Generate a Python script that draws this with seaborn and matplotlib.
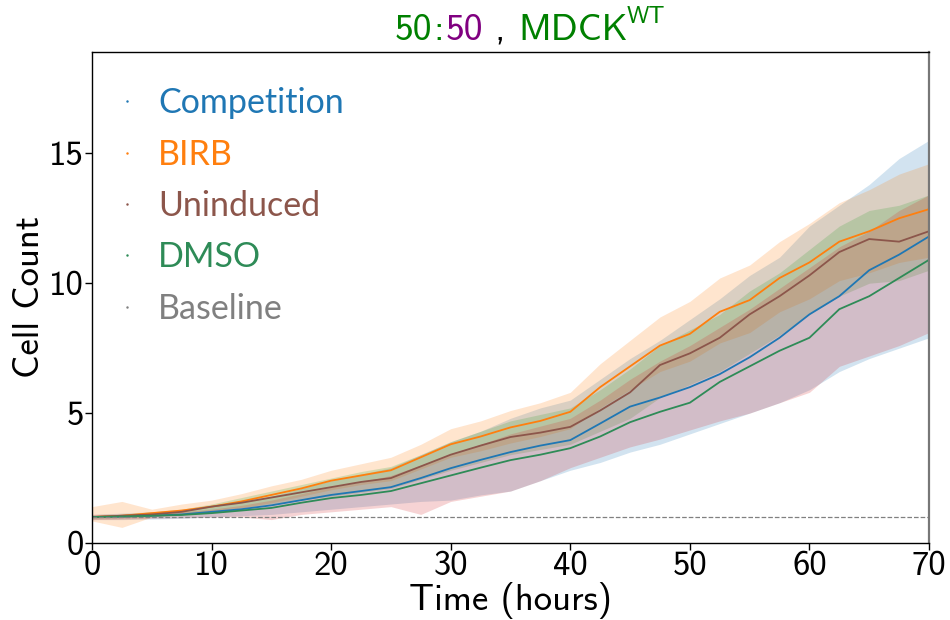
import numpy as np
import pandas as pd
import seaborn as sns
import matplotlib.pyplot as plt
from matplotlib.lines import Line2D

hours = [0, 2.5, 5, 7.5, 10, 12.5, 15, 17.5, 20, 22.5, 25, 27.5, 30, 32.5, 35,
         37.5, 40, 42.5, 45, 47.5, 50, 52.5, 55, 57.5, 60, 62.5, 65, 67.5, 70]

competition = [1.0, 1.02, 1.05, 1.1, 1.2, 1.3, 1.45, 1.65, 1.85, 2.0, 2.15, 2.5, 2.88, 3.2, 3.5,
               3.75, 3.96, 4.6, 5.25, 5.6, 6.0, 6.5, 7.15, 7.9, 8.8, 9.5, 10.5, 11.1, 11.8]
competition_lo = [0.9, 0.9, 0.92, 0.95, 1.0, 1.05, 1.1, 1.2, 1.3, 1.4, 1.5, 1.6, 1.65, 1.85, 2.0,
                  2.4, 2.8, 3.1, 3.5, 3.8, 4.2, 4.6, 5.0, 5.4, 5.9, 6.6, 7.1, 7.5, 7.9]
competition_hi = [1.1, 1.15, 1.2, 1.25, 1.4, 1.6, 1.8, 2.1, 2.4, 2.65, 2.9, 3.4, 3.9, 4.3, 4.8,
                  5.2, 5.5, 6.3, 7.1, 7.8, 8.6, 9.4, 10.3, 11.0, 12.2, 13.0, 13.8, 14.8, 15.5]

birb = [1.0, 1.05, 1.15, 1.25, 1.4, 1.6, 1.85, 2.1, 2.4, 2.6, 2.8, 3.3, 3.8, 4.1, 4.45,
        4.7, 5.05, 6.0, 6.8, 7.6, 8.05, 8.9, 9.35, 10.2, 10.8, 11.6, 12.0, 12.5, 12.85]
birb_lo = [0.85, 0.6, 1.0, 1.1, 1.2, 1.35, 1.55, 1.8, 2.05, 2.25, 2.4, 2.85, 3.3, 3.55, 3.85,
           4.1, 4.4, 5.2, 5.9, 6.6, 7.0, 7.7, 8.1, 8.9, 9.4, 10.1, 10.4, 10.8, 11.0]
birb_hi = [1.4, 1.6, 1.3, 1.5, 1.65, 1.9, 2.2, 2.45, 2.8, 3.05, 3.3, 3.8, 4.4, 4.7, 5.1,
           5.4, 5.8, 6.9, 7.8, 8.7, 9.3, 10.2, 10.7, 11.6, 12.3, 13.1, 13.6, 14.2, 14.6]

uninduced = [1.0, 1.05, 1.1, 1.2, 1.4, 1.55, 1.75, 1.95, 2.15, 2.35, 2.5, 2.95, 3.4, 3.75, 4.08,
             4.25, 4.47, 5.1, 5.8, 6.85, 7.3, 7.9, 8.8, 9.5, 10.3, 11.2, 11.7, 11.6, 12.0]
uninduced_lo = [0.95, 0.97, 1.0, 1.1, 1.25, 1.35, 1.5, 1.65, 1.8, 1.95, 2.1, 2.45, 2.8, 3.1, 3.4,
                3.6, 3.8, 4.3, 4.8, 5.6, 6.1, 6.6, 7.3, 8.0, 8.8, 9.5, 10.0, 10.1, 10.5]
uninduced_hi = [1.05, 1.1, 1.2, 1.3, 1.5, 1.75, 2.0, 2.25, 2.5, 2.75, 2.95, 3.4, 3.9, 4.3, 4.7,
                4.95, 5.2, 5.9, 6.7, 7.6, 8.2, 8.8, 9.7, 10.4, 11.3, 12.2, 12.8, 13.0, 13.4]

dmso = [1.0, 1.02, 1.05, 1.08, 1.15, 1.25, 1.35, 1.55, 1.73, 1.85, 2.0, 2.3, 2.6, 2.9, 3.19,
        3.4, 3.65, 4.1, 4.65, 5.05, 5.4, 6.2, 6.8, 7.4, 7.9, 9.0, 9.5, 10.2, 10.9]
dmso_lo = [0.9, 0.92, 0.95, 0.97, 1.0, 1.0, 0.9, 1.1, 1.2, 1.3, 1.4, 1.1, 1.6, 1.8, 2.0,
           2.4, 2.9, 3.3, 3.7, 4.0, 4.35, 4.7, 5.0, 5.4, 5.8, 6.8, 7.2, 7.6, 8.1]
dmso_hi = [1.1, 1.12, 1.15, 1.2, 1.3, 1.45, 1.65, 1.9, 2.15, 2.35, 2.6, 3.0, 3.4, 3.8, 4.2,
           4.5, 4.8, 5.5, 6.3, 7.0, 7.6, 8.3, 9.0, 9.8, 10.6, 11.4, 12.0, 12.8, 13.4]

baseline = 1.0

labels = ["Competition", "BIRB", "Uninduced", "DMSO", "Baseline"]
line_colors = ["#1f77b4", "#ff7f0e", "#8c564b", "#2e8b57", "grey"]
band_colors = ["#1f77b4", "#ff7f0e", "#2ca02c", "#d62728"]

sns.set_theme(style="white")
plt.rcParams["font.family"] = ["cmss10", "DejaVu Sans"]
plt.rcParams["axes.unicode_minus"] = False

fig = plt.figure(figsize=(9.5, 6.2), dpi=100)
ax = fig.add_axes([92 / 950, 1 - 543 / 620, (929 - 92) / 950, (543 - 52) / 620])

los = [competition_lo, birb_lo, uninduced_lo, dmso_lo]
his = [competition_hi, birb_hi, uninduced_hi, dmso_hi]

for lo, hi, c in zip(los, his, band_colors):
    ax.fill_between(hours, lo, hi, color=c, alpha=0.2, linewidth=0)

df = pd.DataFrame({"hours": hours * 4,
                   "count": competition + birb + uninduced + dmso,
                   "cond": sum([[l] * len(hours) for l in labels[:4]], [])})
for lab, c in zip(labels[:4], line_colors[:4]):
    sns.lineplot(data=df[df["cond"] == lab], x="hours", y="count", color=c,
                 linewidth=1.3, ax=ax, legend=False)

ax.axhline(baseline, color="grey", linestyle="--", linewidth=0.9)

ax.set_xlim(0, 70)
ax.set_ylim(0, 18.9)
ax.set_xticks([0, 10, 20, 30, 40, 50, 60, 70])
ax.set_yticks([0, 5, 10, 15])
ax.tick_params(axis="both", labelsize=25, length=5, width=1, direction="out",
               bottom=True, left=True, pad=1, colors="black")
for sp in ax.spines.values():
    sp.set_color("black")
    sp.set_linewidth(1.0)
ax.spines["right"].set_color("#777777")
ax.spines["right"].set_linewidth(1.6)

ax.set_xlabel("Time (hours)", fontsize=26.5, labelpad=0, color="black")
ax.set_ylabel("Cell Count", fontsize=26.5, labelpad=2, color="black")

handles = [Line2D([], [], marker=".", markersize=1.5, linestyle="none", color=c)
           for c in line_colors]
leg = ax.legend(handles, labels, loc="upper left", frameon=False,
                prop={"family": "Lato", "size": 24.5}, handlelength=1.26,
                handletextpad=0.28, labelspacing=0.57, borderpad=0.4,
                borderaxespad=0, bbox_to_anchor=(0.0, 0.956))
for txt, c in zip(leg.get_texts(), line_colors):
    txt.set_color(c)

# multicoloured title: (text, colour, size, left px, baseline px)
pieces = [("50", "green", 27, 395, 40), (":", "green", 27, 433, 40),
          ("50", "purple", 27, 446, 40), (",", "black", 27, 494, 40),
          ("MDCK", "green", 27, 518, 40), ("WT", "green", 17, 627, 23)]
for s, c, size, x_px, y_px in pieces:
    fig.text(x_px / 950, 1 - y_px / 620, s, color=c, fontsize=size,
             ha="left", va="baseline")

fig.savefig("out.png", dpi=100)
